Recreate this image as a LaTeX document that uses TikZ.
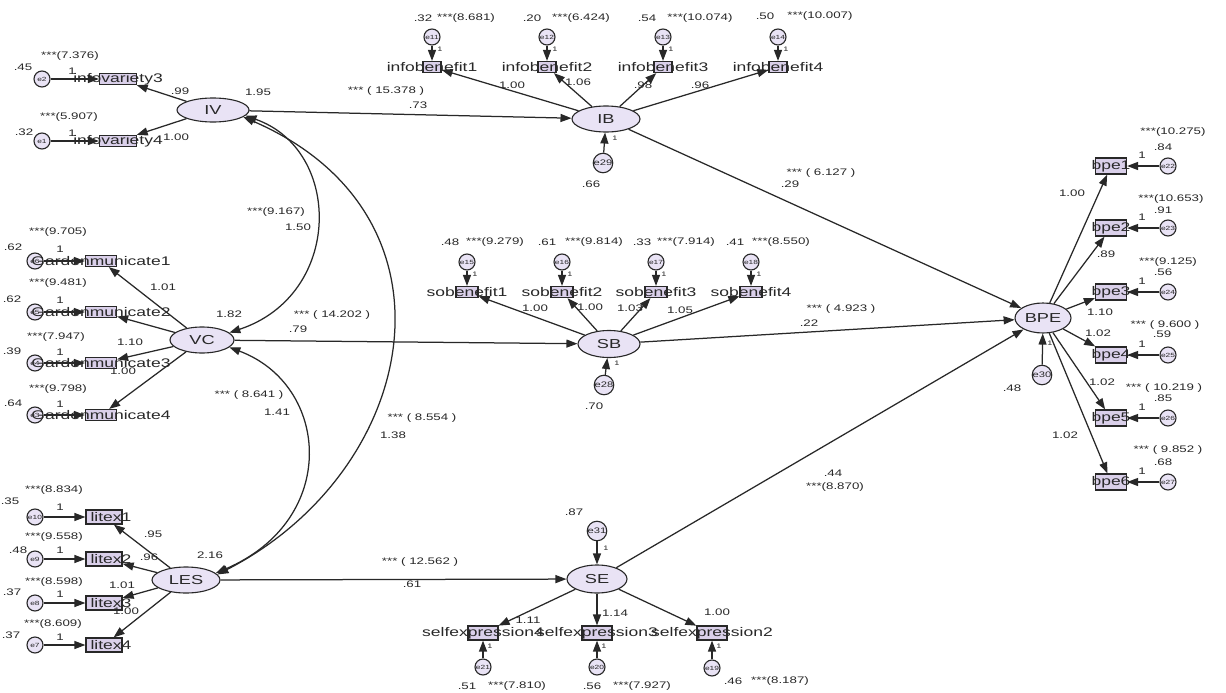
\documentclass[tikz,border=0pt]{standalone}
\usepackage{fontspec}
\newfontfamily\amos{Liberation Sans}[FakeStretch=1.4]
\usetikzlibrary{shapes.geometric,arrows.meta}
\definecolor{latfill}{RGB}{233,227,245}
\definecolor{obsfill}{RGB}{218,208,234}
\definecolor{ink}{RGB}{40,40,40}
\tikzset{
  lat/.style={ellipse, draw=ink, line width=1.1pt, fill=latfill, inner sep=0pt, font=\amos\fontsize{13}{14}\selectfont, text=ink},
  obs/.style={rectangle, draw=ink, line width=1.2pt, fill=obsfill, inner sep=0pt, minimum height=11},
  olab/.style={font=\amos\fontsize{12.5}{13}\selectfont, text=ink, inner sep=0pt},
  err/.style={circle, draw=ink, line width=1.1pt, fill=latfill, inner sep=0pt, minimum size=16, font=\amos\fontsize{6}{6}\selectfont, text=ink},
  dist/.style={err, minimum size=19, font=\amos\fontsize{8}{8}\selectfont},
  num/.style={font=\amos\fontsize{9.5}{10}\selectfont, text=ink, inner sep=0pt},
  one/.style={font=\amos\fontsize{6.5}{7}\selectfont, text=ink, inner sep=0pt},
  arr/.style={-{Triangle[length=11pt,width=8pt]}, line width=1.25pt, draw=ink},
  cov/.style={{Triangle[length=11pt,width=8pt]}-{Triangle[length=11pt,width=8pt]}, line width=1.25pt, draw=ink},
}
\begin{document}
\begin{tikzpicture}[x=1pt,y=-1pt]
\fill[white] (0,0) rectangle (1226,693);
\useasboundingbox (0,0) rectangle (1226,693);

% ===== latent variables =====
\node[lat, minimum width=72, minimum height=24] (IV) at (213,110) {IV};
\node[lat, minimum width=64, minimum height=26] (VC) at (202,340) {VC};
\node[lat, minimum width=68, minimum height=26] (LES) at (186,580) {LES};
\node[lat, minimum width=68, minimum height=26] (IB) at (606,119) {IB};
\node[lat, minimum width=62, minimum height=27] (SB) at (609,344) {SB};
\node[lat, minimum width=60, minimum height=28] (SE) at (597,579) {SE};
\node[lat, minimum width=56, minimum height=30] (BPE) at (1043,318) {BPE};

% ===== IV indicators =====
\node[err] (e2) at (42,79) {e2};
\node[err] (e1) at (42,141) {e1};
\node[obs, minimum width=37, label={[olab]center:infovariety3}] (iv3) at (118,79) {};
\node[obs, minimum width=37, label={[olab]center:infovariety4}] (iv4) at (118,141) {};
\draw[arr] (e2) -- (iv3);
\draw[arr] (e1) -- (iv4);
\draw[arr] (IV) -- (iv3);
\draw[arr] (IV) -- (iv4);
\node[num] (n1) at (23,67) {.45};
\node[num] (n2) at (70,56) {***(7.376)};
\node[num] (n3) at (72,71) {1};
\node[num] (n4) at (24,132) {.32};
\node[num] (n5) at (69,117) {***(5.907)};
\node[num] (n6) at (72,133) {1};
\node[num] (n7) at (180,91) {.99};
\node[num] (n8) at (176,137) {1.00};
\node[num] (n9) at (258,92) {1.95};

% ===== VC indicators =====
\node[err] (e6) at (35,261) {e6};
\node[err] (e5) at (35,312) {e5};
\node[err] (e4) at (35,363) {e4};
\node[err] (e3) at (35,415) {e3};
\node[obs, minimum width=31, label={[olab]center:Gardenmunicate1}] (vc1) at (101,261) {};
\node[obs, minimum width=31, label={[olab]center:Gardenmunicate2}] (vc2) at (101,312) {};
\node[obs, minimum width=31, label={[olab]center:Gardenmunicate3}] (vc3) at (101,363) {};
\node[obs, minimum width=31, label={[olab]center:Gardenmunicate4}] (vc4) at (101,415) {};
\draw[arr] (e6) -- (vc1);
\draw[arr] (e5) -- (vc2);
\draw[arr] (e4) -- (vc3);
\draw[arr] (e3) -- (vc4);
\draw[arr] (VC) -- (vc1);
\draw[arr] (VC) -- (vc2);
\draw[arr] (VC) -- (vc3);
\draw[arr] (VC) -- (vc4);
\node[num] (n10) at (58,232) {***(9.705)};
\node[num] (n11) at (13,247) {.62};
\node[num] (n12) at (60,249) {1};
\node[num] (n13) at (58,283) {***(9.481)};
\node[num] (n14) at (12,299) {.62};
\node[num] (n15) at (60,300) {1};
\node[num] (n16) at (56,337) {***(7.947)};
\node[num] (n17) at (12,351) {.39};
\node[num] (n18) at (60,352) {1};
\node[num] (n19) at (58,389) {***(9.798)};
\node[num] (n20) at (13,403) {.64};
\node[num] (n21) at (60,404) {1};
\node[num] (n22) at (163,287) {1.01};
\node[num] (n23) at (130,342) {1.10};
\node[num] (n24) at (123,371) {1.00};
\node[num] (n25) at (229,314) {1.82};

% ===== LES indicators =====
\node[err] (e10) at (35,517) {e10};
\node[err] (e9) at (35,559) {e9};
\node[err] (e8) at (35,603) {e8};
\node[err] (e7) at (35,645) {e7};
\node[obs, minimum width=36, minimum height=14, label={[olab,xshift=7]center:litex1}] (les1) at (104,517) {};
\node[obs, minimum width=36, minimum height=14, label={[olab,xshift=7]center:litex2}] (les2) at (104,559) {};
\node[obs, minimum width=36, minimum height=14, label={[olab,xshift=7]center:litex3}] (les3) at (104,603) {};
\node[obs, minimum width=36, minimum height=14, label={[olab,xshift=7]center:litex4}] (les4) at (104,645) {};
\draw[arr] (e10) -- (les1);
\draw[arr] (e9) -- (les2);
\draw[arr] (e8) -- (les3);
\draw[arr] (e7) -- (les4);
\draw[arr] (LES) -- (les1);
\draw[arr] (LES) -- (les2);
\draw[arr] (LES) -- (les3);
\draw[arr] (LES) -- (les4);
\node[num] (n26) at (10,501) {.35};
\node[num] (n27) at (54,490) {***(8.834)};
\node[num] (n28) at (60,507) {1};
\node[num] (n29) at (18,550) {.48};
\node[num] (n30) at (54,537) {***(9.558)};
\node[num] (n31) at (60,550) {1};
\node[num] (n32) at (12,592) {.37};
\node[num] (n33) at (54,582) {***(8.598)};
\node[num] (n34) at (60,594) {1};
\node[num] (n35) at (11,635) {.37};
\node[num] (n36) at (53,624) {***(8.609)};
\node[num] (n37) at (60,637) {1};
\node[num] (n38) at (153,534) {.95};
\node[num] (n39) at (149,557) {.96};
\node[num] (n40) at (122,585) {1.01};
\node[num] (n41) at (126,611) {1.00};
\node[num] (n42) at (210,555) {2.16};

% ===== IB indicators =====
\node[obs, minimum width=18, label={[olab]center:infobenefit1}] (ib1) at (432,67) {};
\node[obs, minimum width=18, label={[olab]center:infobenefit2}] (ib2) at (547,67) {};
\node[obs, minimum width=18, label={[olab]center:infobenefit3}] (ib3) at (663,67) {};
\node[obs, minimum width=18, label={[olab]center:infobenefit4}] (ib4) at (778,67) {};
\node[err] (e11) at (432,37) {e11};
\node[err] (e12) at (547,37) {e12};
\node[err] (e13) at (663,37) {e13};
\node[err] (e14) at (778,37) {e14};
\draw[arr] (e11) -- (ib1);
\draw[arr] (e12) -- (ib2);
\draw[arr] (e13) -- (ib3);
\draw[arr] (e14) -- (ib4);
\draw[arr] (IB) -- (ib1);
\draw[arr] (IB) -- (ib2);
\draw[arr] (IB) -- (ib3);
\draw[arr] (IB) -- (ib4);
\node[num] (n43) at (423,18) {.32};
\node[num] (n44) at (466,18) {***(8.681)};
\node[num] (n45) at (532,18) {.20};
\node[num] (n46) at (581,18) {***(6.424)};
\node[num] (n47) at (647,18) {.54};
\node[num] (n48) at (700,18) {***(10.074)};
\node[num] (n49) at (765,16) {.50};
\node[num] (n50) at (820,16) {***(10.007)};
\node[one] (n51) at (440,49) {1};
\node[one] (n52) at (555,49) {1};
\node[one] (n53) at (671,49) {1};
\node[one] (n54) at (786,49) {1};
\node[num] (n55) at (512,85) {1.00};
\node[num] (n56) at (578,82) {1.06};
\node[num] (n57) at (643,85) {.98};
\node[num] (n58) at (700,85) {.96};
\node[dist] (e29) at (603,163) {e29};
\draw[arr] (e29) -- (IB);
\node[num] (n59) at (591,184) {.66};
\node[one] (n60) at (615,138) {1};

% ===== SB indicators =====
\node[obs, minimum width=22, label={[olab]center:sobenefit1}] (sb1) at (467,292) {};
\node[obs, minimum width=22, label={[olab]center:sobenefit2}] (sb2) at (562,292) {};
\node[obs, minimum width=22, label={[olab]center:sobenefit3}] (sb3) at (656,292) {};
\node[obs, minimum width=22, label={[olab]center:sobenefit4}] (sb4) at (751,292) {};
\node[err] (e15) at (467,262) {e15};
\node[err] (e16) at (562,262) {e16};
\node[err] (e17) at (656,262) {e17};
\node[err] (e18) at (751,262) {e18};
\draw[arr] (e15) -- (sb1);
\draw[arr] (e16) -- (sb2);
\draw[arr] (e17) -- (sb3);
\draw[arr] (e18) -- (sb4);
\draw[arr] (SB) -- (sb1);
\draw[arr] (SB) -- (sb2);
\draw[arr] (SB) -- (sb3);
\draw[arr] (SB) -- (sb4);
\node[num] (n61) at (450,242) {.48};
\node[num] (n62) at (495,242) {***(9.279)};
\node[num] (n63) at (547,242) {.61};
\node[num] (n64) at (594,242) {***(9.814)};
\node[num] (n65) at (642,242) {.33};
\node[num] (n66) at (686,242) {***(7.914)};
\node[num] (n67) at (735,242) {.41};
\node[num] (n68) at (781,242) {***(8.550)};
\node[one] (n69) at (475,274) {1};
\node[one] (n70) at (570,274) {1};
\node[one] (n71) at (664,274) {1};
\node[one] (n72) at (759,274) {1};
\node[num] (n73) at (535,308) {1.00};
\node[num] (n74) at (590,307) {1.00};
\node[num] (n75) at (630,308) {1.03};
\node[num] (n76) at (680,310) {1.05};
\node[dist] (e28) at (604,385) {e28};
\draw[arr] (e28) -- (SB);
\node[num] (n77) at (594,406) {.70};
\node[one] (n78) at (617,363) {1};

% ===== SE indicators =====
\node[obs, minimum width=30, minimum height=14, label={[olab]center:selfexpression4}] (se4) at (483,633) {};
\node[obs, minimum width=30, minimum height=14, label={[olab]center:selfexpression3}] (se3) at (597,633) {};
\node[obs, minimum width=30, minimum height=14, label={[olab]center:selfexpression2}] (se2) at (712,633) {};
\node[err] (e21) at (483,667) {e21};
\node[err] (e20) at (597,667) {e20};
\node[err] (e19) at (712,668) {e19};
\draw[arr] (e21) -- (se4);
\draw[arr] (e20) -- (se3);
\draw[arr] (e19) -- (se2);
\draw[arr] (SE) -- (se4);
\draw[arr] (SE) -- (se3);
\draw[arr] (SE) -- (se2);
\node[num] (n79) at (467,686) {.51};
\node[num] (n80) at (517,686) {***(7.810)};
\node[num] (n81) at (592,686) {.56};
\node[num] (n82) at (642,686) {***(7.927)};
\node[num] (n83) at (733,681) {.46};
\node[num] (n84) at (780,681) {***(8.187)};
\node[one] (n85) at (490,646) {1};
\node[one] (n86) at (604,646) {1};
\node[one] (n87) at (719,646) {1};
\node[num] (n88) at (528,620) {1.11};
\node[num] (n89) at (615,613) {1.14};
\node[num] (n90) at (717,612) {1.00};
\node[dist] (e31) at (597,531) {e31};
\draw[arr] (e31) -- (SE);
\node[num] (n91) at (574,512) {.87};
\node[one] (n92) at (606,548) {1};

% ===== BPE indicators =====
\node[obs, minimum width=31, minimum height=16, label={[olab]center:bpe1}] (bp1) at (1111,166) {};
\node[obs, minimum width=31, minimum height=16, label={[olab]center:bpe2}] (bp2) at (1111,228) {};
\node[obs, minimum width=31, minimum height=16, label={[olab]center:bpe3}] (bp3) at (1111,292) {};
\node[obs, minimum width=31, minimum height=16, label={[olab]center:bpe4}] (bp4) at (1111,355) {};
\node[obs, minimum width=31, minimum height=16, label={[olab]center:bpe5}] (bp5) at (1111,418) {};
\node[obs, minimum width=31, minimum height=16, label={[olab]center:bpe6}] (bp6) at (1111,482) {};
\node[err] (e22) at (1168,166) {e22};
\node[err] (e23) at (1168,228) {e23};
\node[err] (e24) at (1168,292) {e24};
\node[err] (e25) at (1168,355) {e25};
\node[err] (e26) at (1168,418) {e26};
\node[err] (e27) at (1168,482) {e27};
\draw[arr] (e22) -- (bp1);
\draw[arr] (e23) -- (bp2);
\draw[arr] (e24) -- (bp3);
\draw[arr] (e25) -- (bp4);
\draw[arr] (e26) -- (bp5);
\draw[arr] (e27) -- (bp6);
\draw[arr] (BPE) -- (bp1);
\draw[arr] (BPE) -- (bp2);
\draw[arr] (BPE) -- (bp3);
\draw[arr] (BPE) -- (bp4);
\draw[arr] (BPE) -- (bp5);
\draw[arr] (BPE) -- (bp6);
\node[num] (n93) at (1173,132) {***(10.275)};
\node[num] (n94) at (1163,147) {.84};
\node[num] (n95) at (1171,199) {***(10.653)};
\node[num] (n96) at (1163,210) {.91};
\node[num] (n97) at (1168,262) {***(9.125)};
\node[num] (n98) at (1163,272) {.56};
\node[num] (n99) at (1165,325) {*** ( 9.600 )};
\node[num] (n100) at (1162,334) {.59};
\node[num] (n101) at (1164,388) {*** ( 10.219 )};
\node[num] (n102) at (1163,398) {.85};
\node[num] (n103) at (1168,450) {*** ( 9.852 )};
\node[num] (n104) at (1163,462) {.68};
\node[num] (n105) at (1142,155) {1};
\node[num] (n106) at (1142,217) {1};
\node[num] (n107) at (1142,281) {1};
\node[num] (n108) at (1142,344) {1};
\node[num] (n109) at (1142,407) {1};
\node[num] (n110) at (1142,471) {1};
\node[num] (n111) at (1072,193) {1.00};
\node[num] (n112) at (1106,254) {.89};
\node[num] (n113) at (1100,312) {1.10};
\node[num] (n114) at (1098,333) {1.02};
\node[num] (n115) at (1102,382) {1.02};
\node[num] (n116) at (1065,435) {1.02};
\node[dist] (e30) at (1042,375) {e30};
\draw[arr] (e30) -- (BPE);
\node[num] (n117) at (1012,388) {.48};
\node[one] (n118) at (1050,343) {1};

% ===== structural paths =====
\draw[arr] (IV) -- (IB);
\draw[arr] (VC) -- (SB);
\draw[arr] (LES) -- (SE);
\draw[arr] (IB) -- (BPE);
\draw[arr] (SB) -- (BPE);
\draw[arr] (SE) -- (BPE);
\node[num] (n119) at (386,91) {*** ( 15.378 )};
\node[num] (n120) at (418,105) {.73};
\node[num] (n121) at (332,315) {*** ( 14.202 )};
\node[num] (n122) at (298,329) {.79};
\node[num] (n123) at (420,562) {*** ( 12.562 )};
\node[num] (n124) at (412,584) {.61};
\node[num] (n125) at (821,173) {*** ( 6.127 )};
\node[num] (n126) at (790,184) {.29};
\node[num] (n127) at (841,309) {*** ( 4.923 )};
\node[num] (n128) at (809,323) {.22};
\node[num] (n129) at (833,473) {.44};
\node[num] (n130) at (835,487) {***(8.870)};

% ===== covariances =====
\draw[cov] (IV.-10) .. controls (343,150) and (343,295) .. (VC.15);
\draw[cov] (IV.-13) .. controls (470,215) and (420,470) .. (LES.10);
\draw[cov] (VC.-15) .. controls (330,385) and (340,520) .. (LES.13);
\node[num] (n131) at (276,212) {***(9.167)};
\node[num] (n132) at (298,227) {1.50};
\node[num] (n133) at (249,395) {*** ( 8.641 )};
\node[num] (n134) at (277,412) {1.41};
\node[num] (n135) at (422,418) {*** ( 8.554 )};
\node[num] (n136) at (393,435) {1.38};
\end{tikzpicture}
\end{document}
